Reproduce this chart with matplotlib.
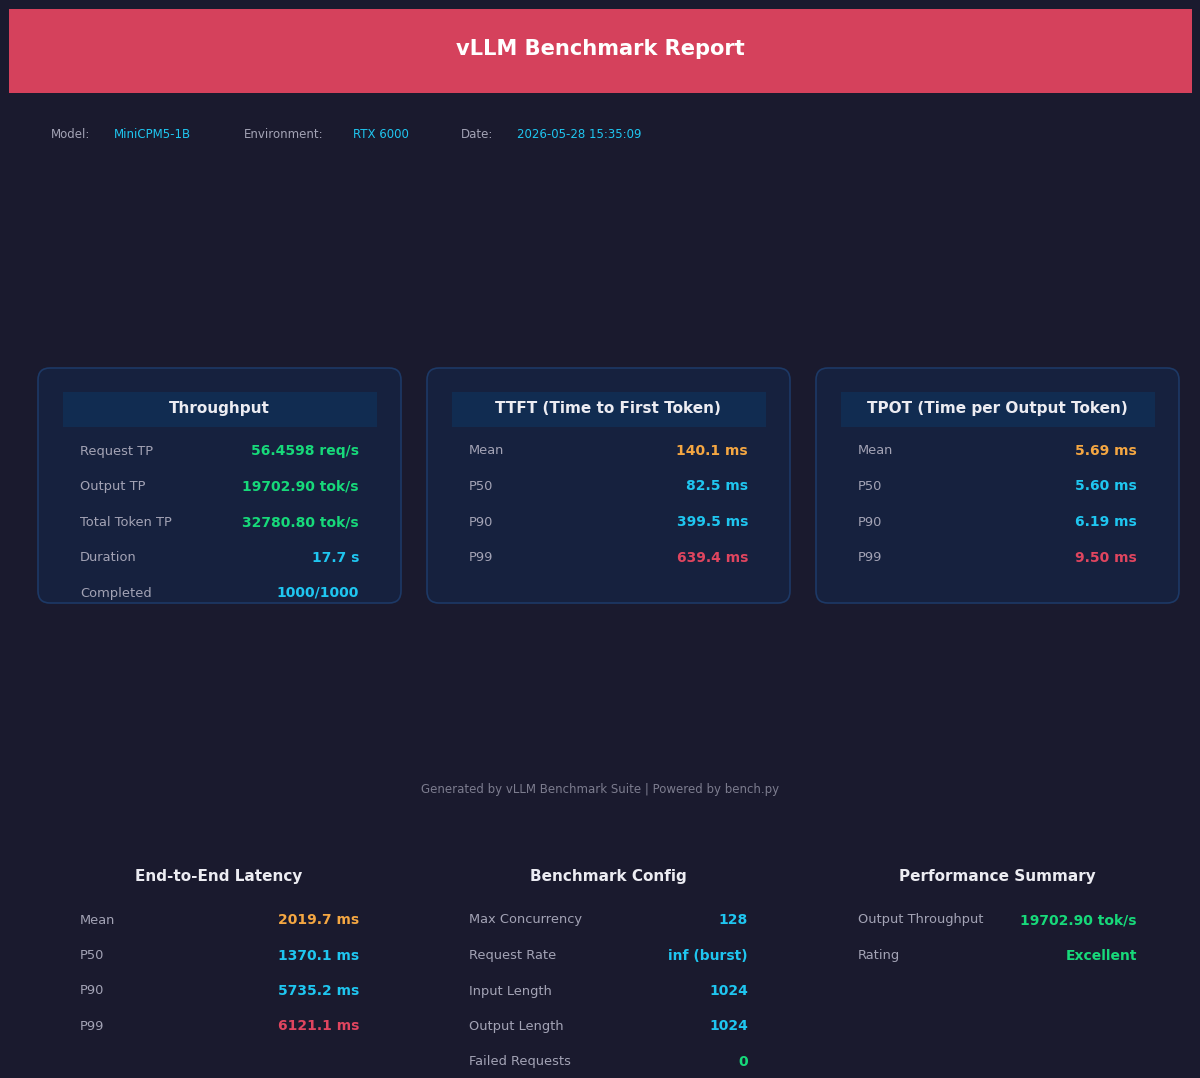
import matplotlib
matplotlib.use('Agg')
import matplotlib.pyplot as plt
from matplotlib.patches import Rectangle, FancyBboxPatch

# report data
title = 'vLLM Benchmark Report'
info_keys = ['Model:', 'Environment:', 'Date:']
info_vals = ['MiniCPM5-1B', 'RTX 6000', '2026-05-28 15:35:09']

tp_labels = ['Request TP', 'Output TP', 'Total Token TP', 'Duration', 'Completed']
tp_values = ['56.4598 req/s', '19702.90 tok/s', '32780.80 tok/s', '17.7 s', '1000/1000']
tp_kinds = ['good', 'good', 'good', 'info', 'info']

ttft_labels = ['Mean', 'P50', 'P90', 'P99']
ttft_values = ['140.1 ms', '82.5 ms', '399.5 ms', '639.4 ms']
tpot_labels = ['Mean', 'P50', 'P90', 'P99']
tpot_values = ['5.69 ms', '5.60 ms', '6.19 ms', '9.50 ms']
lat_kinds = ['warn', 'info', 'info', 'bad']

e2e_labels = ['Mean', 'P50', 'P90', 'P99']
e2e_values = ['2019.7 ms', '1370.1 ms', '5735.2 ms', '6121.1 ms']

cfg_labels = ['Max Concurrency', 'Request Rate', 'Input Length', 'Output Length', 'Failed Requests']
cfg_values = ['128', 'inf (burst)', '1024', '1024', '0']
cfg_kinds = ['info', 'info', 'info', 'info', 'good']

sum_labels = ['Output Throughput', 'Rating']
sum_values = ['19702.90 tok/s', 'Excellent']
sum_kinds = ['good', 'good']

footer = 'Generated by vLLM Benchmark Suite | Powered by bench.py'

BG = '#1a1a2e'
CARD = '#16213e'
BAND = '#112c51'
EDGE = '#1d3966'
GREY = '#a3a3b5'
colors = {'good': '#17d97a', 'info': '#1fc6f0', 'warn': '#f5a742', 'bad': '#e0455f'}

fig = plt.figure(figsize=(12, 10.78), dpi=100, facecolor=BG)
ax = fig.add_axes([0, 0, 1, 1])
ax.set_xlim(0, 1200)
ax.set_ylim(1078, 0)
ax.axis('off')
ax.set_facecolor(BG)

# header
ax.add_patch(Rectangle((9, 9), 1183, 84, facecolor='#d5415c', edgecolor='none'))
ax.text(600, 49, title, color='white', fontsize=15.1, fontweight='bold', ha='center', va='center')

# info line
key_x = [51, 244, 461]
val_x = [114, 353, 517]
for k, v, kx, vx in zip(info_keys, info_vals, key_x, val_x):
    ax.text(kx, 134.5, k, color=GREY, fontsize=8.5, va='center')
    ax.text(vx, 134.5, v, color=colors['info'], fontsize=8.5, va='center')


def rows(x0, x1, y0, labels, values, kinds):
    for i, (lab, val, kd) in enumerate(zip(labels, values, kinds)):
        y = y0 + i * 35.5
        ax.text(x0, y, lab, color=GREY, fontsize=9.4, va='center')
        ax.text(x1, y, val, color=colors[kd], fontsize=10, fontweight='bold', ha='right', va='center')


cards = [
    ('Throughput', tp_labels, tp_values, tp_kinds),
    ('TTFT (Time to First Token)', ttft_labels, ttft_values, lat_kinds),
    ('TPOT (Time per Output Token)', tpot_labels, tpot_values, lat_kinds),
]
for i, (name, labs, vals, kinds) in enumerate(cards):
    x = 38 + i * 389
    ax.add_patch(FancyBboxPatch((x, 368), 363, 235, boxstyle='round,pad=0,rounding_size=12',
                                facecolor=CARD, edgecolor=EDGE, linewidth=1.2))
    ax.add_patch(Rectangle((x + 25, 392), 314, 35, facecolor=BAND, edgecolor='none'))
    ax.text(x + 181, 408.5, name, color='#ececf2', fontsize=11, fontweight='bold', ha='center', va='center')
    rows(x + 42, x + 321, 451, labs, vals, kinds)

ax.text(600, 789, footer, color='#7c7c8e', fontsize=8.5, ha='center', va='center')

bottom = [
    ('End-to-End Latency', e2e_labels, e2e_values, lat_kinds),
    ('Benchmark Config', cfg_labels, cfg_values, cfg_kinds),
    ('Performance Summary', sum_labels, sum_values, sum_kinds),
]
for i, (name, labs, vals, kinds) in enumerate(bottom):
    x = 38 + i * 389
    ax.text(x + 181, 877, name, color='#ececf2', fontsize=11, fontweight='bold', ha='center', va='center')
    rows(x + 42, x + 321, 920, labs, vals, kinds)

fig.savefig('out.png', dpi=100, facecolor=BG)
